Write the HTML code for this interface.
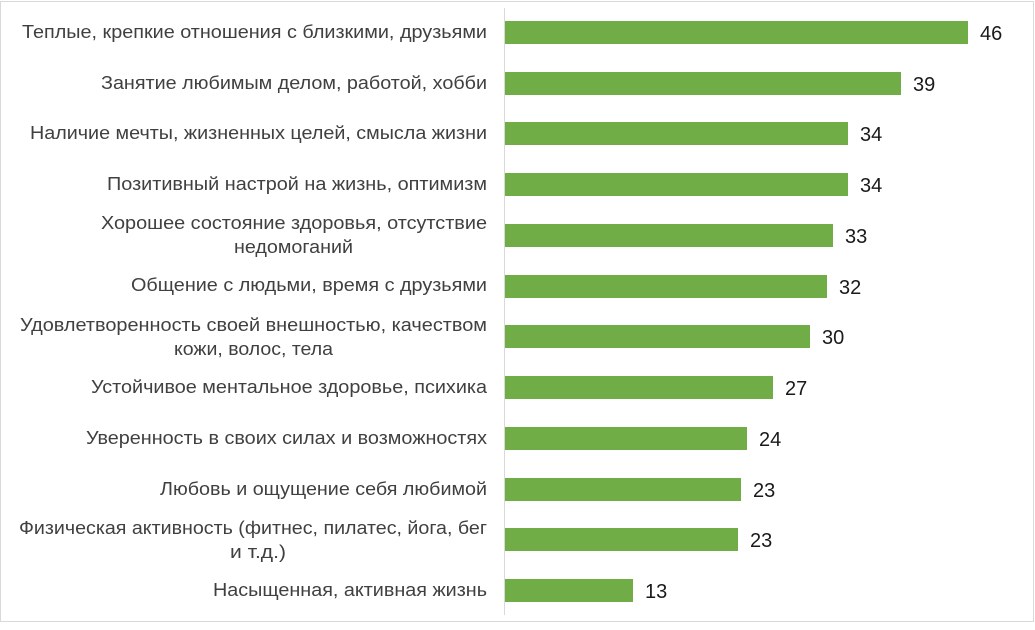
<!DOCTYPE html>
<html><head><meta charset="utf-8"><style>
body{margin:0;background:#fff;}
svg text{font-family:"Liberation Sans",sans-serif;}
</style></head><body>
<svg width="1035" height="625" xmlns="http://www.w3.org/2000/svg">
<rect x="0.5" y="1.5" width="1033" height="620" fill="#fff" stroke="#d9d9d9"/>
<line x1="504.5" y1="8" x2="504.5" y2="615" stroke="#d9d9d9"/>
<g fill="#70ad47">
<rect x="505" y="21" width="463" height="23"/>
<rect x="505" y="72" width="396" height="23"/>
<rect x="505" y="122" width="343" height="23"/>
<rect x="505" y="173" width="343" height="23"/>
<rect x="505" y="224" width="328" height="23"/>
<rect x="505" y="275" width="322" height="23"/>
<rect x="505" y="325" width="305" height="23"/>
<rect x="505" y="376" width="268" height="23"/>
<rect x="505" y="427" width="242" height="23"/>
<rect x="505" y="478" width="236" height="23"/>
<rect x="505" y="528" width="233" height="23"/>
<rect x="505" y="579" width="128" height="23"/>
</g>
<g font-size="20" fill="#1a1a1a">
<text x="980" y="40">46</text>
<text x="913" y="91">39</text>
<text x="860" y="141">34</text>
<text x="860" y="192">34</text>
<text x="845" y="243">33</text>
<text x="839" y="294">32</text>
<text x="822" y="344">30</text>
<text x="785" y="395">27</text>
<text x="759" y="446">24</text>
<text x="753" y="497">23</text>
<text x="750" y="547">23</text>
<text x="645" y="598">13</text>
</g>
<g font-size="18" fill="#404040">
<text x="22" y="38" textLength="465" lengthAdjust="spacingAndGlyphs">Теплые, крепкие отношения с близкими, друзьями</text>
<text x="101" y="89" textLength="386" lengthAdjust="spacingAndGlyphs">Занятие любимым делом, работой, хобби</text>
<text x="30" y="139" textLength="457" lengthAdjust="spacingAndGlyphs">Наличие мечты, жизненных целей, смысла жизни</text>
<text x="107" y="190" textLength="380" lengthAdjust="spacingAndGlyphs">Позитивный настрой на жизнь, оптимизм</text>
<text x="101" y="229" textLength="386" lengthAdjust="spacingAndGlyphs">Хорошее состояние здоровья, отсутствие</text>
<text x="234" y="253" textLength="119" lengthAdjust="spacingAndGlyphs">недомоганий</text>
<text x="131" y="291" textLength="356" lengthAdjust="spacingAndGlyphs">Общение с людьми, время с друзьями</text>
<text x="20" y="331" textLength="467" lengthAdjust="spacingAndGlyphs">Удовлетворенность своей внешностью, качеством</text>
<text x="174" y="355" textLength="159" lengthAdjust="spacingAndGlyphs">кожи, волос, тела</text>
<text x="91" y="393" textLength="396" lengthAdjust="spacingAndGlyphs">Устойчивое ментальное здоровье, психика</text>
<text x="86" y="444" textLength="401" lengthAdjust="spacingAndGlyphs">Уверенность в своих силах и возможностях</text>
<text x="160" y="495" textLength="327" lengthAdjust="spacingAndGlyphs">Любовь и ощущение себя любимой</text>
<text x="19" y="534" textLength="468" lengthAdjust="spacingAndGlyphs">Физическая активность (фитнес, пилатес, йога, бег</text>
<text x="230" y="558" textLength="56" lengthAdjust="spacingAndGlyphs">и т.д.)</text>
<text x="213" y="596" textLength="274" lengthAdjust="spacingAndGlyphs">Насыщенная, активная жизнь</text>
</g>
</svg>
</body></html>
